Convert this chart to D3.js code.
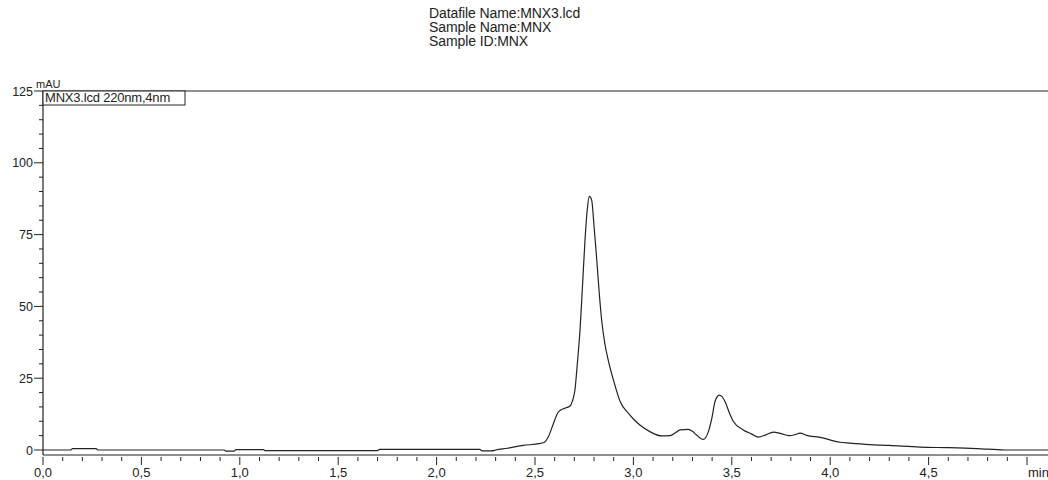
<!DOCTYPE html>
<html>
<head>
<meta charset="utf-8">
<script src="https://cdn.jsdelivr.net/npm/d3@7"></script>
<style>
  body { margin: 0; background: #fff; }
  text { font-family: "Liberation Sans", Arial, sans-serif; fill: #222; }
</style>
</head>
<body>
<svg id="chart" width="1048" height="480" viewBox="0 0 1048 480"></svg>
<script>
// header lines above the plot
const headerLines = ["Datafile Name:MNX3.lcd", "Sample Name:MNX", "Sample ID:MNX"]
const legendLabel = "MNX3.lcd 220nm,4nm"

// retention time (min) and detector signal (mAU)
const times = [0.00, 0.14, 0.15, 0.27, 0.28, 0.92, 0.93, 0.97, 0.98, 1.12, 1.13, 1.70, 1.71, 2.22, 2.23, 2.28, 2.30,
  2.36, 2.44, 2.52, 2.545, 2.568, 2.59, 2.619, 2.65, 2.678, 2.69, 2.703, 2.715, 2.729, 2.742, 2.754, 2.766, 2.776,
  2.788, 2.80, 2.813, 2.826, 2.839, 2.855, 2.873, 2.90, 2.932, 2.974, 3.00, 3.033, 3.084, 3.144, 3.186, 3.215, 3.237,
  3.279, 3.30, 3.321, 3.355, 3.381, 3.40, 3.415, 3.437, 3.45, 3.466, 3.49, 3.508, 3.558, 3.60, 3.635, 3.67, 3.711,
  3.75, 3.79, 3.82, 3.847, 3.88, 3.948, 4.05, 4.10, 4.20, 4.30, 4.456, 4.60, 4.744, 4.888, 5.11]
const signal = [0.0, 0.0, 0.5, 0.5, 0.0, 0.0, -0.4, -0.4, 0.1, 0.1, -0.2, -0.2, 0.2, 0.2, -0.3, -0.3, 0.0,
  0.6, 1.6, 2.2, 2.6, 4.6, 8.5, 13.3, 14.5, 15.3, 17.0, 20.9, 30.0, 42.0, 58.0, 73.0, 84.0, 88.3,
  87.0, 78.0, 67.0, 55.0, 45.0, 37.0, 31.0, 24.0, 17.0, 12.8, 10.8, 8.7, 6.4, 4.9, 5.0, 6.1, 7.0,
  7.2, 6.5, 5.2, 3.7, 6.4, 11.5, 17.0, 19.1, 18.6, 16.8, 12.5, 9.9, 7.0, 5.6, 4.5, 5.2, 6.2,
  5.7, 5.0, 5.3, 5.9, 5.1, 4.4, 2.7, 2.4, 1.9, 1.6, 1.0, 0.8, 0.5, 0.0, 0.0]

// axis ticks
const xMajor = [0, 0.5, 1.0, 1.5, 2.0, 2.5, 3.0, 3.5, 4.0, 4.5, 5.0]
const xLabels = ["0,0", "0,5", "1,0", "1,5", "2,0", "2,5", "3,0", "3,5", "4,0", "4,5", "min"]
const yMajor = [0, 25, 50, 75, 100, 125]

const data = times.map((t, i) => ({t: t, v: signal[i]}))

let svg = d3.select("#chart")
let width = 1048

let x = d3.scaleLinear().domain([0, 5]).range([43, 1027])
let y = d3.scaleLinear().domain([0, 125]).range([450, 91])

// header
svg.append("g").selectAll("text")
  .data(headerLines)
  .enter()
  .append("text")
  .attr("x", 429)
  .attr("y", (d, i) => 18 + i * 14)
  .attr("font-size", 14)
  .attr("letter-spacing", -0.1)
  .text(d => d)

// top border at 125 mAU
svg.append("line")
  .attr("x1", x(0)).attr("x2", width)
  .attr("y1", y(125)).attr("y2", y(125))
  .attr("stroke", "#222").attr("stroke-width", 1)

// y axis line
svg.append("line")
  .attr("x1", x(0)).attr("x2", x(0))
  .attr("y1", y(125)).attr("y2", 455)
  .attr("stroke", "#222").attr("stroke-width", 1.2)

// x axis line
svg.append("line")
  .attr("x1", x(0)).attr("x2", width)
  .attr("y1", 455).attr("y2", 455)
  .attr("stroke", "#222").attr("stroke-width", 1.2)

// y ticks: minor every 5, major every 25
let yMinor = d3.range(0, 126, 5)
svg.append("g").selectAll("line")
  .data(yMinor)
  .enter()
  .append("line")
  .attr("x1", d => yMajor.includes(d) ? x(0) - 9 : x(0) - 4)
  .attr("x2", x(0))
  .attr("y1", d => y(d)).attr("y2", d => y(d))
  .attr("stroke", "#222").attr("stroke-width", 1)

svg.append("g").selectAll("text")
  .data(yMajor)
  .enter()
  .append("text")
  .attr("x", x(0) - 10)
  .attr("y", d => y(d) + 4.5)
  .attr("text-anchor", "end")
  .attr("font-size", 12.5)
  .text(d => d)

svg.append("text")
  .attr("x", 36).attr("y", 88)
  .attr("font-size", 11)
  .text("mAU")

// x ticks: minor every 0.1, major every 0.5
let xMinor = d3.range(0, 51).map(d => d / 10)
svg.append("g").selectAll("line")
  .data(xMinor)
  .enter()
  .append("line")
  .attr("x1", d => x(d)).attr("x2", d => x(d))
  .attr("y1", 457)
  .attr("y2", (d, i) => i % 5 === 0 ? 465 : 461)
  .attr("stroke", "#222").attr("stroke-width", 1)

svg.append("g").selectAll("text")
  .data(xMajor)
  .enter()
  .append("text")
  .attr("x", (d, i) => i === xMajor.length - 1 ? x(d) + 1 : x(d))
  .attr("y", 477)
  .attr("text-anchor", (d, i) => i === xMajor.length - 1 ? "start" : "middle")
  .attr("font-size", 13)
  .text((d, i) => xLabels[i])

// chromatogram trace
let line = d3.line()
  .x(d => x(d.t))
  .y(d => y(d.v))
  .curve(d3.curveMonotoneX)

svg.append("path")
  .datum(data)
  .attr("d", line)
  .attr("fill", "none")
  .attr("stroke", "#222")
  .attr("stroke-width", 1.2)

// legend box
svg.append("rect")
  .attr("x", x(0)).attr("y", y(125))
  .attr("width", 142).attr("height", 14)
  .attr("fill", "#fff")
  .attr("stroke", "#222").attr("stroke-width", 1)

svg.append("text")
  .attr("x", x(0) + 2).attr("y", y(125) + 11)
  .attr("font-size", 13)
  .attr("letter-spacing", -0.2)
  .text(legendLabel)
</script>
</body>
</html>
